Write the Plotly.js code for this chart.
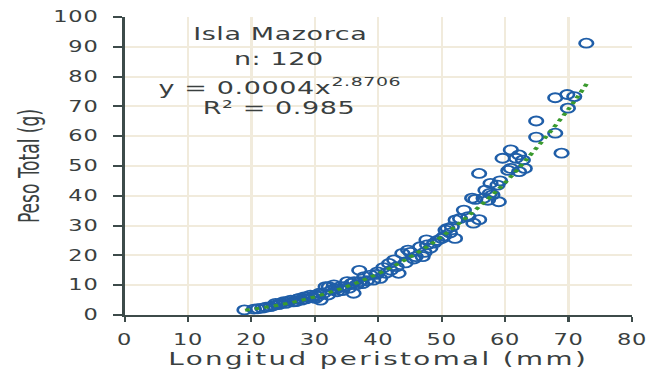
<!DOCTYPE html>
<html>
<head>
<meta charset="utf-8">
<script src="https://cdn.plot.ly/plotly-3.0.1.min.js"></script>
<style>
html,body{margin:0;padding:0;background:#fff;overflow:hidden;}
#wrap{width:437px;height:369px;transform:scaleX(1.5011);transform-origin:0 0;}
#chart{width:437px;height:369px;}
#chart .xtitle{letter-spacing:1.6px;}
#chart .annotation-text{letter-spacing:0.4px;}
#chart .xtick text,#chart .ytick text{letter-spacing:0.5px;}
</style>
</head>
<body>
<div id="wrap"><div id="chart"></div></div>
<script>
// Longitud peristomal (mm)
const lengthMm = [
18.9,20.4,21.0,21.7,22.3,23.0,23.5,23.8,24.3,24.6,
25.1,25.4,25.8,26.2,26.6,27.0,27.2,27.5,27.9,28.3,
28.6,28.8,29.3,29.6,30.1,30.1,30.5,30.7,30.9,31.4,
31.7,32.1,32.2,32.6,33.0,33.3,33.5,34.0,34.3,34.6,
35.1,35.4,35.8,36.1,36.2,36.6,37.0,37.1,37.5,37.8,
38.2,38.8,39.2,39.7,39.9,40.3,40.8,41.2,41.7,42.0,
42.5,42.9,43.2,43.8,44.3,44.7,45.1,45.6,45.9,46.6,
47.0,47.3,47.7,47.6,48.2,48.8,49.3,50.0,50.4,50.6,
50.9,51.3,51.6,52.1,52.2,52.9,53.5,54.2,54.8,55.0,
55.3,55.9,55.9,56.6,56.9,57.3,57.6,57.7,58.0,58.8,
59.2,59.0,59.6,60.5,60.9,60.9,61.7,62.2,62.2,62.8,
63.1,64.9,64.9,67.9,67.9,68.9,69.8,69.9,70.9,72.8
];
// Peso Total (g)
const weightG = [
1.7,2.0,2.1,2.3,2.6,2.8,3.2,3.9,3.5,4.0,
4.5,3.9,4.6,5.0,4.4,4.5,5.3,5.6,5.0,6.1,
5.4,6.1,6.7,5.8,5.6,6.7,6.3,7.3,5.0,7.3,
9.5,6.7,9.5,8.4,10.1,8.7,7.8,9.5,8.2,9.5,
11.2,9.0,10.6,7.3,11.2,10.2,15.0,11.2,10.5,12.9,
11.5,13.4,11.7,13.6,14.5,12.3,15.9,14.0,17.3,15.0,
18.5,16.2,14.0,20.7,17.5,21.8,21.0,18.8,19.6,22.9,
19.6,21.0,23.5,25.2,22.4,24.1,25.0,25.7,26.5,28.5,
29.1,27.5,29.6,25.7,31.9,32.4,35.2,33.0,39.2,30.8,
38.8,32.0,47.5,39.2,41.9,38.5,40.8,44.2,40.3,43.6,
45.0,38.0,52.6,48.5,55.4,49.2,52.6,48.1,53.7,52.0,
49.2,65.1,59.7,61.0,72.9,54.3,74.0,69.4,73.3,91.2
];
// Potential trend line (y = 0.0004x^2.8706)
const trendX = [19,25,30,35,40,45,50,55,60,65,70,73];
const trendY = [1.6,3.6,6.1,9.5,13.9,19.4,26.3,34.7,44.4,56.2,69.1,78.0];

const xTicks = [0,10,20,30,40,50,60,70,80];
const yTicks = [0,10,20,30,40,50,60,70,80,90,100];

const labelLines = ["Isla Mazorca","n: 120","y = 0.0004x<sup>2.8706</sup>","R² = 0.985"];
const labelY = [0.943,0.861,0.768,0.695];

const axisColor = '#3d4b4a';
const gridColor = '#f1ebdc';
const textColor = '#3a3f3f';
const fontFam = 'DejaVu Sans, Verdana, sans-serif';
const condFam = 'DejaVu Sans Condensed, DejaVu Sans, sans-serif';

const traces = [
  {
    x: lengthMm, y: weightG, type: 'scatter', mode: 'markers',
    marker: {symbol: 'circle-open', size: 9, color: '#1f5ea8', line: {width: 1.8, color: '#1f5ea8'}},
    hoverinfo: 'skip', showlegend: false
  },
  {
    x: trendX, y: trendY, type: 'scatter', mode: 'lines',
    line: {color: '#3a9a2e', width: 3, dash: '3px,3.5px', shape: 'spline'},
    hoverinfo: 'skip', showlegend: false
  }
];

const annotations = labelLines.map((t, i) => ({
  text: t, xref: 'paper', yref: 'paper', x: 0.306, y: labelY[i],
  xanchor: 'center', yanchor: 'middle', showarrow: false,
  font: {family: fontFam, size: 18, color: textColor}
}));

const layout = {
  width: 437, height: 369,
  margin: {l: 83, r: 16, t: 17, b: 54},
  paper_bgcolor: '#ffffff', plot_bgcolor: '#ffffff',
  xaxis: {
    range: [0, 80], tickvals: xTicks, ticktext: xTicks.map(String),
    showgrid: true, gridcolor: gridColor, gridwidth: 1.5,
    zeroline: false, showline: true, linecolor: axisColor, linewidth: 2,
    ticks: 'outside', ticklen: 5, tickwidth: 1.4, tickcolor: axisColor,
    tickfont: {family: fontFam, size: 15, color: textColor},
    ticklabelstandoff: 5,
    title: {text: 'Longitud peristomal (mm)', font: {family: fontFam, size: 18.5, color: textColor}, standoff: 1},
    automargin: false
  },
  yaxis: {
    range: [0, 100], tickvals: yTicks, ticktext: yTicks.map(String),
    showgrid: true, gridcolor: gridColor, gridwidth: 2,
    zeroline: false, showline: true, linecolor: axisColor, linewidth: 1.4,
    ticks: 'outside', ticklen: 6, tickwidth: 2, tickcolor: axisColor,
    tickfont: {family: fontFam, size: 15, color: textColor},
    ticklabelstandoff: 7,
    title: {text: 'Peso Total (g)', font: {family: condFam, size: 19, color: textColor}, standoff: 5},
    automargin: false
  },
  annotations: annotations,
  showlegend: false
};

Plotly.newPlot('chart', traces, layout, {displayModeBar: false, staticPlot: true});
</script>
</body>
</html>
